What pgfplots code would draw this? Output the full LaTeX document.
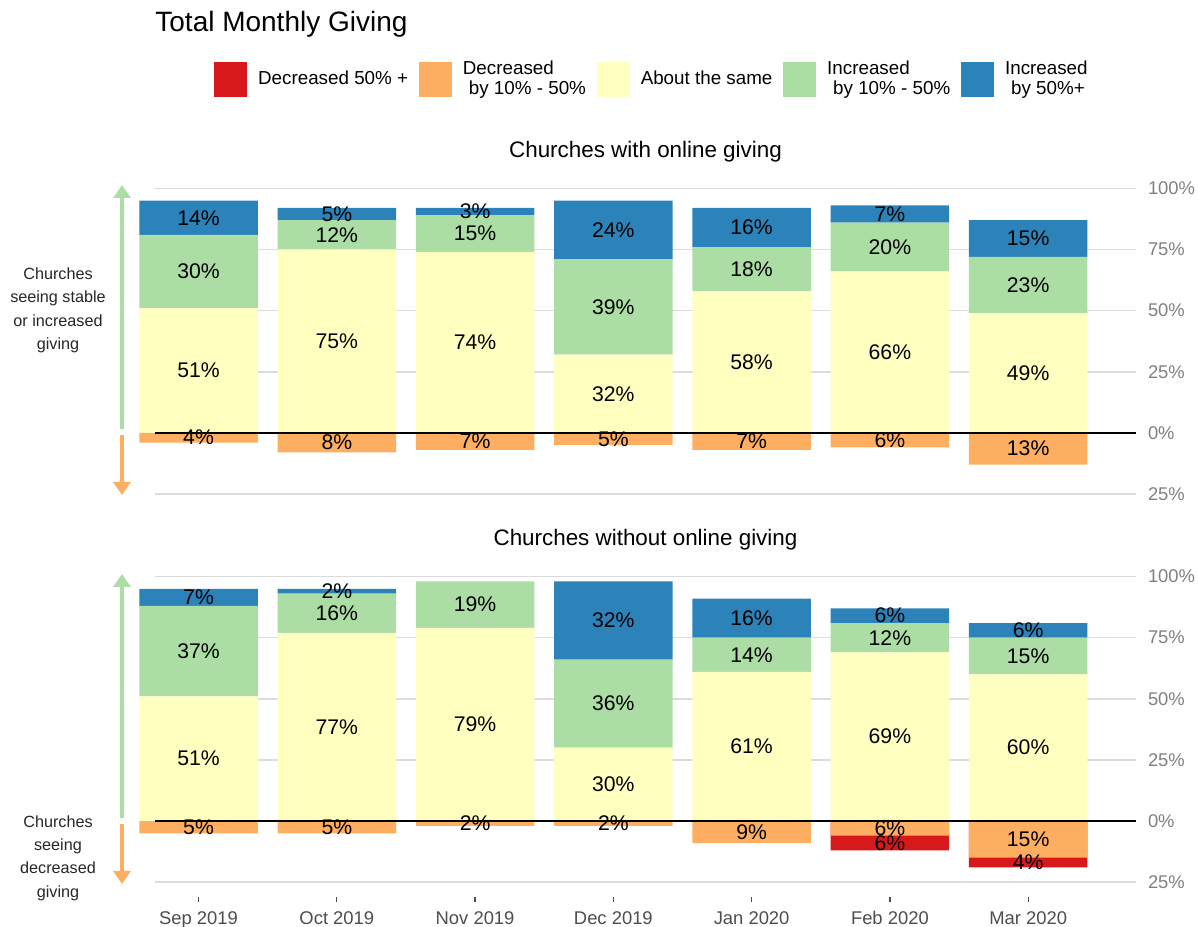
\documentclass[border=0pt]{standalone}
\usepackage{pgfplots}
\pgfplotsset{compat=1.18}
\usepackage{pgfplotstable}
\usepackage{fontspec}
\setmainfont{Liberation Sans}
\usetikzlibrary{arrows.meta}

\definecolor{dec50}{HTML}{D7191C}
\definecolor{dec10}{HTML}{FDAE61}
\definecolor{same}{HTML}{FFFFBF}
\definecolor{inc10}{HTML}{ABDDA4}
\definecolor{inc50}{HTML}{2B83BA}
\definecolor{gridcol}{HTML}{DCDCDC}
\definecolor{ygray}{HTML}{808080}
\definecolor{xgray}{HTML}{4D4D4D}

\newcommand{\ftitle}{\fontsize{14bp}{16bp}\selectfont}
\newcommand{\fpanel}{\fontsize{11.2bp}{13bp}\selectfont}
\newcommand{\flegend}{\fontsize{9.4bp}{10bp}\selectfont}
\newcommand{\fbar}{\fontsize{10.6bp}{12bp}\selectfont}
\newcommand{\ftick}{\fontsize{9.2bp}{11bp}\selectfont}
\newcommand{\fnote}{\fontsize{8.1bp}{11.7bp}\selectfont}

% month index: 0 = Sep 2019 ... 6 = Mar 2020
% churches with online giving (shares in %)
\pgfplotstableread{
x same inc10 inc50 dec10
0 51 30 14  -4
1 75 12  5  -8
2 74 15  3  -7
3 32 39 24  -5
4 58 18 16  -7
5 66 20  7  -6
6 49 23 15 -13
}\onlinedata

% churches without online giving; declow = bottom of the red part
\pgfplotstableread{
x same inc10 inc50 dec10 declow
0 51 37  7  -5   0
1 77 16  2  -5   0
2 79 19  0  -2   0
3 30 36 32  -2   0
4 61 14 16  -9   0
5 69 12  6  -6 -12
6 60 15  6 -15 -19
}\offlinedata

% segment labels (x, middle of segment, value)
\pgfplotstableread{
x y v
0 25.5 51
0 66   30
0 88   14
0 -2    4
1 37.5 75
1 81   12
1 89.5  5
1 -4    8
2 37   74
2 81.5 15
2 90.5  3
2 -3.5  7
3 16   32
3 51.5 39
3 83   24
3 -2.5  5
4 29   58
4 67   18
4 84   16
4 -3.5  7
5 33   66
5 76   20
5 89.5  7
5 -3    6
6 24.5 49
6 60.5 23
6 79.5 15
6 -6.5 13
}\onlinelab

\pgfplotstableread{
x y v
0 25.5 51
0 69.5 37
0 91.5  7
0 -2.5  5
1 38.5 77
1 85   16
1 94    2
1 -2.5  5
2 39.5 79
2 88.5 19
2 -1    2
3 15   30
3 48   36
3 82   32
3 -1    2
4 30.5 61
4 68   14
4 83   16
4 -4.5  9
5 34.5 69
5 75   12
5 84    6
5 -3    6
5 -9    6
6 30   60
6 67.5 15
6 78    6
6 -7.5 15
6 -17   4
}\offlinelab

\pgfplotsset{
  panel/.style={
    scale only axis, width=490.5bp,
    xmin=-0.315, xmax=6.78, clip=false,
    ybar stacked, bar width=0.857,
    axis line style={draw=none},
    ytick={-25,0,25,50,75,100},
    yticklabels={25\%,0\%,25\%,50\%,75\%,100\%},
    yticklabel pos=right,
    ymajorgrids, grid style={gridcol, line width=0.8bp},
    major tick length=2.8bp, tick align=outside,
    ytick style={draw=none},
    yticklabel style={font=\ftick, text=ygray, anchor=west, inner sep=0pt, xshift=3bp},
    xticklabel style={font=\ftick, text=xgray, text height=7bp, text depth=1.5bp, yshift=-0.3bp},
    xtick style={xgray, line width=0.65bp},
  },
  cover/.style={
    scale only axis, width=490.5bp,
    xmin=-0.315, xmax=6.78, clip=false, hide axis,
  },
  barlab/.style={only marks, mark=none, point meta=explicit symbolic,
    nodes near coords={\pgfplotspointmeta\%},
    every node near coord/.append style={anchor=center, font=\fbar, text=black, inner sep=0pt}},
}

\begin{document}
\begin{tikzpicture}
\useasboundingbox (0,0) rectangle (599bp,-463.5bp);

% ---------- top panel ----------
\begin{axis}[panel, at={(77.5bp,-249.4bp)}, anchor=south west,
    height=160.1bp, ymin=-27, ymax=104, xtick=\empty,
    legend columns=5,
    legend style={at={(0.5056,1.311)}, anchor=center, draw=none, fill=none,
      font=\flegend, nodes={inner sep=0pt},
      cells={anchor=west, align=left},
      /tikz/every odd column/.append style={column sep=5.5bp},
      /tikz/every even column/.append style={column sep=5.5bp}},
  ]
  \addlegendimage{legend image code/.code={\fill[dec50] (0bp,-8.5bp) rectangle (16bp,8.5bp);}}
  \addlegendentry{Decreased 50\% +}
  \addlegendimage{legend image code/.code={\fill[dec10] (0bp,-8.5bp) rectangle (16bp,8.5bp);}}
  \addlegendentry{Decreased\\\hspace*{3bp}by 10\% - 50\%}
  \addlegendimage{legend image code/.code={\fill[same] (0bp,-8.5bp) rectangle (16bp,8.5bp);}}
  \addlegendentry{About the same}
  \addlegendimage{legend image code/.code={\fill[inc10] (0bp,-8.5bp) rectangle (16bp,8.5bp);}}
  \addlegendentry{Increased\\\hspace*{3bp}by 10\% - 50\%}
  \addlegendimage{legend image code/.code={\fill[inc50] (0bp,-8.5bp) rectangle (16bp,8.5bp);}}
  \addlegendentry{Increased\\\hspace*{3bp}by 50\%+}

  \addplot[fill=same, draw=none, forget plot] table[x=x, y=same] {\onlinedata};
  \addplot[fill=inc10, draw=none, forget plot] table[x=x, y=inc10] {\onlinedata};
  \addplot[fill=inc50, draw=none, forget plot] table[x=x, y=inc50] {\onlinedata};
\end{axis}

\begin{axis}[cover, at={(77.5bp,-249.4bp)}, anchor=south west,
    height=160.1bp, ymin=-27, ymax=104]
  \addplot[ybar, bar shift=0pt, bar width=0.857, fill=dec10, draw=none]
    table[x=x, y=dec10] {\onlinedata};
  \addplot[black, line width=0.8bp] coordinates {(-0.315,0) (6.78,0)};
  \addplot[barlab] table[x=x, y=y, meta=v] {\onlinelab};
\end{axis}

% ---------- bottom panel ----------
\begin{axis}[panel, at={(77.5bp,-448.4bp)}, anchor=south west,
    height=165bp, ymin=-31, ymax=104,
    xtick={0,1,2,3,4,5,6}, xtick pos=left,
    xticklabels={Sep 2019,Oct 2019,Nov 2019,Dec 2019,Jan 2020,Feb 2020,Mar 2020},
  ]
  \addplot[fill=same, draw=none] table[x=x, y=same] {\offlinedata};
  \addplot[fill=inc10, draw=none] table[x=x, y=inc10] {\offlinedata};
  \addplot[fill=inc50, draw=none] table[x=x, y=inc50] {\offlinedata};
\end{axis}

\begin{axis}[cover, at={(77.5bp,-448.4bp)}, anchor=south west,
    height=165bp, ymin=-31, ymax=104]
  \addplot[ybar, bar shift=0pt, bar width=0.857, fill=dec50, draw=none]
    table[x=x, y=declow] {\offlinedata};
  \addplot[ybar, bar shift=0pt, bar width=0.857, fill=dec10, draw=none]
    table[x=x, y=dec10] {\offlinedata};
  \addplot[black, line width=0.8bp] coordinates {(-0.315,0) (6.78,0)};
  \addplot[barlab] table[x=x, y=y, meta=v] {\offlinelab};
\end{axis}

% ---------- titles and side annotations (pixel coordinates) ----------
\begin{scope}[x=0.5bp, y=-0.5bp]
\node[anchor=base west, font=\ftitle, inner sep=0pt] at (155,31) {Total Monthly Giving};
\node[anchor=base, font=\fpanel, inner sep=0pt] at (645.5,157.3) {Churches with online giving};
\node[anchor=base, font=\fpanel, inner sep=0pt] at (645.5,545.5) {Churches without online giving};

\draw[inc10, line width=2bp, -{Triangle[length=6.5bp, width=8.5bp]}] (122,429) -- (122,185);
\draw[dec10, line width=2bp, -{Triangle[length=6.5bp, width=8.5bp]}] (122,435) -- (122,495);
\node[font=\fnote, align=center, text=black!85] at (58,310.5)
  {Churches\\seeing stable\\or increased\\giving};

\draw[inc10, line width=2bp, -{Triangle[length=6.5bp, width=8.5bp]}] (122,818) -- (122,574);
\draw[dec10, line width=2bp, -{Triangle[length=6.5bp, width=8.5bp]}] (122,824) -- (122,884);
\node[font=\fnote, align=center, text=black!85] at (58,858)
  {Churches\\seeing\\decreased\\giving};
\end{scope}
\end{tikzpicture}
\end{document}
